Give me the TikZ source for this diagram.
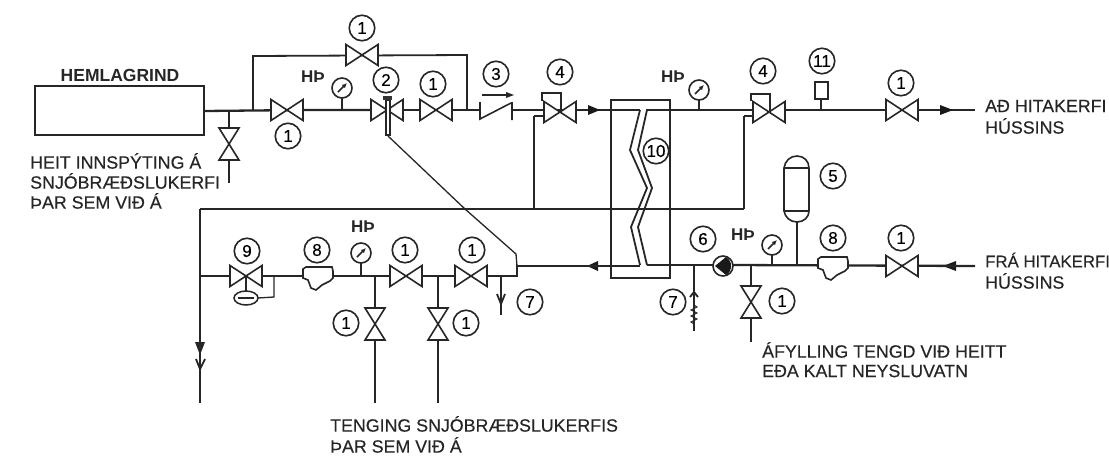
\documentclass[tikz,border=0pt]{standalone}
\usepackage{fontspec}
\setmainfont{Liberation Sans}
\newfontfamily\labfont[FakeBold=0.35]{Liberation Sans}
\usetikzlibrary{arrows.meta,shapes.geometric}
\tikzset{
 x=1pt,y=-1pt,
 pipe/.style={line width=2.3pt,black!85},
 thin pipe/.style={line width=1.8pt,black!85},
 valveline/.style={line width=1.6pt,black!85,fill=white,line join=miter},
 num/.style={circle,draw=black!85,line width=1.6pt,fill=white,minimum size=25.5pt,inner sep=0pt,font=\labfont\fontsize{17}{17}\selectfont},
 lab/.style={anchor=west,inner sep=0pt,font=\labfont\fontsize{17.8}{17.8}\selectfont,text=black!85},
 hp/.style={inner sep=0pt,font=\fontsize{17}{17}\selectfont\bfseries,text=black!85},
 gauge/.style={circle,draw=black!85,line width=1.6pt,fill=white,minimum size=20pt,inner sep=0pt},
 pics/hvalve/.style={code={\draw[valveline] (-16,-10.5)--(16,10.5)--(16,-10.5)--(-16,10.5)--cycle;}},
 pics/vvalve/.style={code={\draw[valveline] (-10,-16)--(10,16)--(-10,16)--(10,-16)--cycle;}},
 pics/strainer/.style={code={\draw[valveline] (-15,-7)--(-12,-9)--(14,-9)--(15,-5)--(15,2)--(12,5)--(4,9)--(-2,14)--(-7,12)--(-10,4)--(-15,2)--cycle;}},
 pics/dial/.style={code={\draw[line width=1.5pt,black!85,-{Latex[length=5pt,width=4.5pt]}] (-4,4)--(5,-5);}},
}
\begin{document}
\begin{tikzpicture}
\useasboundingbox (0,0) rectangle (1109,459);
% coordinates
\coordinate (Ha) at (253,110);
\coordinate (Ra) at (534,116);
\coordinate (Rb) at (744,116);
\coordinate (Rl) at (200,209);
% hemlagrind
\node (hem) [draw=black!85,line width=1.6pt,minimum width=169pt,minimum height=49pt,inner sep=0pt] at (119.5,110.5) {};
\node (hemt) [font=\fontsize{17.5}{17.5}\selectfont\bfseries,text=black!85,inner sep=0pt] at (120,75) {HEMLAGRIND};
% upper pipes
\draw[pipe] (204,111)--(303,110)--(372,110);
\draw[thin pipe] (229,111)--(229,183);
\draw[thin pipe] (Ha)--(253,56)--(467,55)--(467,110);
\draw[pipe] (403,110)--(480,110);
\draw[pipe] (512,110)--(640,110);
\draw[pipe] (646,110)--(753,110);
\draw[pipe] (785,110)--(975,110);
\draw[thin pipe] (Ra)--(545,116);
\draw[thin pipe] (Ra)--(534,209);
\draw[thin pipe] (Rb)--(753,116);
\draw[thin pipe] (Rb)--(744,209);
\draw[pipe] (Rl)--(744,209);
\draw[pipe] (Rl)--(200,354);
\draw[thin pipe] (200,340)--(200,403);
\draw[thin pipe] (196,359)--(200,369)--(205,359);
\fill[black!85] (195,342)--(205,342)--(200,355)--cycle;
% arrows on the pipes
\fill[black!90] (588,105)--(600,110)--(588,115)--cycle;
\fill[black!90] (940,105)--(953,110)--(940,115)--cycle;
\fill[black!90] (587,266)--(598,261)--(598,271)--cycle;
\fill[black!90] (943,266)--(956,261)--(956,271)--cycle;
% heat exchanger
\node (hx) [draw=black!85,line width=1.9pt,minimum width=59pt,minimum height=178pt,inner sep=0pt] at (640.5,189) {};
\draw[thin pipe,line join=miter] (640,110)--(630,150)--(647,188)--(631,227)--(640,265);
\draw[thin pipe,line join=miter] (647,110)--(638,150)--(652,188)--(638,227)--(647,265);
% lower pipes
\draw[pipe] (200,276)--(303,276);
\draw[pipe] (333,276)--(517,276)--(517,266)--(640,266);
\draw[pipe] (647,265)--(713,265);
\draw[pipe] (733,265)--(975,266);
\draw[line width=1.3pt,black!85] (388,136)--(465,209)--(516,254)--(517,266);
% drains and branches
\draw[thin pipe] (375,276)--(375,403);
\draw[thin pipe] (438,276)--(438,403);
\draw[thin pipe] (501,276)--(501,315);
\draw[thin pipe] (497,294)--(501,304)--(505,294);
\draw[thin pipe] (694,265)--(694,331);
\draw[thin pipe] (690,297)--(694,292)--(698,297);
\draw[line width=1pt,black!85] (694,305)--(697,307)--(691,310)--(697,313)--(691,316)--(697,319)--(691,322)--(694,324);
\draw[thin pipe] (751,265)--(751,342);
\draw[thin pipe] (797,266)--(797,220);
% valves
\path (287,110) pic{hvalve} (362,55) pic{hvalve} (387,110) pic{hvalve} (436,110) pic{hvalve}
 (560,112) pic{hvalve} (769,112) pic{hvalve} (902,110) pic{hvalve}
 (246,276) pic{hvalve} (406,276) pic{hvalve} (471,276) pic{hvalve} (902,266) pic{hvalve}
 (229,144) pic{vvalve} (375,324) pic{vvalve} (438,324) pic{vvalve} (751,302) pic{vvalve};
\path (318,276) pic{strainer} (833,266) pic{strainer};
% check valve
\draw[line width=1.6pt,black!85] (480,102)--(480,119)--(511,103) (512,102)--(512,120);
\draw[line width=1.6pt,black!85] (482,95)--(508,95);
\fill[black!85] (506,92)--(514,95)--(506,98)--cycle;
% valve bonnets
\draw[line width=1.5pt,black!85] (542,101)--(542,93)--(561,93)--(561,112);
\draw[line width=1.5pt,black!85] (751,101)--(751,94)--(770,94)--(770,112);
% thermostatic valve 2
\draw[line width=1.3pt,black!85,fill=white] (386,100) rectangle (390,135);
\fill[black!80] (383,96) rectangle (392,100);
% valve 9 actuator
\draw[thin pipe] (246,276)--(246,291);
\node (act) [draw=black!85,line width=1.5pt,fill=white,ellipse,minimum width=24pt,minimum height=14pt,inner sep=0pt] at (246,298) {};
\draw[line width=1.2pt,black!85] (238,298)--(254,298);
\draw[line width=1.3pt,black!85] (258,298)--(274,297)--(274,276);
% gauges
\draw[line width=1.4pt,black!85] (342,95)--(342,110) (361,260)--(361,276) (699,97)--(699,110) (772,252)--(772,265);
\node (g1) [gauge] at (342,88) {};
\node (g2) [gauge] at (361,253) {};
\node (g3) [gauge] at (699,90) {};
\node (g4) [gauge] at (772,245) {};
\path (342,88) pic{dial} (361,253) pic{dial} (699,90) pic{dial} (772,245) pic{dial};
\node (ht1) [hp] at (313,77) {HÞ};
\node (ht2) [hp] at (363,227) {HÞ};
\node (ht3) [hp] at (673,77) {HÞ};
\node (ht4) [hp] at (743,235) {HÞ};
% pump
\node (pump) [circle,draw=black!85,line width=1.6pt,fill=white,minimum size=20pt,inner sep=0pt] at (723,266) {};
\fill[black!90] (715,266) -- (726,257) arc (-60:60:10.4) -- cycle;
% sensor 11
\draw[line width=1.4pt,black!85] (821,99)--(821,110);
\node (sen) [draw=black!85,line width=1.5pt,minimum width=13pt,minimum height=17pt,inner sep=0pt] at (821.5,90.5) {};
% vessel
\draw[line width=1.6pt,black!85,fill=white] (784,168)--(784,211) .. controls (785,217) and (790,222) .. (797,222) .. controls (804,222) and (809,217) .. (809,211)--(809,168) .. controls (809,161) and (804,156) .. (797,156) .. controls (790,156) and (785,161) .. (784,168) -- cycle;
\draw[line width=1.5pt,black!85] (784,168)--(809,168) (784,211)--(809,211);
% numbered circles
\node (c1)  [num] at (362,28) {1};
\node (c2)  [num] at (288,136) {1};
\node (c3)  [num] at (386,80) {2};
\node (c4)  [num] at (433,84) {1};
\node (c5)  [num] at (496,74) {3};
\node (c6)  [num] at (560,72) {4};
\node (c7)  [num] at (763,71) {4};
\node (c8)  [num] at (822,61) {11};
\node (c9)  [num] at (901,83) {1};
\node (c10) [num] at (656,151) {10};
\node (c11) [num] at (833,176) {5};
\node (c12) [num] at (247,251) {9};
\node (c13) [num] at (317,250) {8};
\node (c14) [num] at (405,250) {1};
\node (c15) [num] at (472,250) {1};
\node (c16) [num] at (346,323) {1};
\node (c17) [num] at (466,323) {1};
\node (c18) [num] at (530,302) {7};
\node (c19) [num] at (673,302) {7};
\node (c20) [num] at (703,239) {6};
\node (c21) [num] at (782,301) {1};
\node (c22) [num] at (833,238) {8};
\node (c23) [num] at (901,238) {1};
% texts
\node (t1) [lab] at (30,161) {HEIT INNSPÝTING Á};
\node (t2) [lab] at (30,181) {SNJÓBRÆÐSLUKERFI};
\node (t3) [lab] at (30,201) {ÞAR SEM VIÐ Á};
\node (t4) [lab] at (330,424) {TENGING SNJÓBRÆÐSLUKERFIS};
\node (t5) [lab] at (330,445) {ÞAR SEM VIÐ Á};
\node (t6) [lab] at (762,350) {ÁFYLLING TENGD VIÐ HEITT};
\node (t7) [lab] at (762,371) {EÐA KALT NEYSLUVATN};
\node (t8) [lab] at (985,106) {AÐ HITAKERFI};
\node (t9) [lab] at (985,126) {HÚSSINS};
\node (t10) [lab,font=\labfont\fontsize{16.8}{16.8}\selectfont] at (985,260) {FRÁ HITAKERFI};
\node (t11) [lab] at (985,281) {HÚSSINS};
\end{tikzpicture}
\end{document}
